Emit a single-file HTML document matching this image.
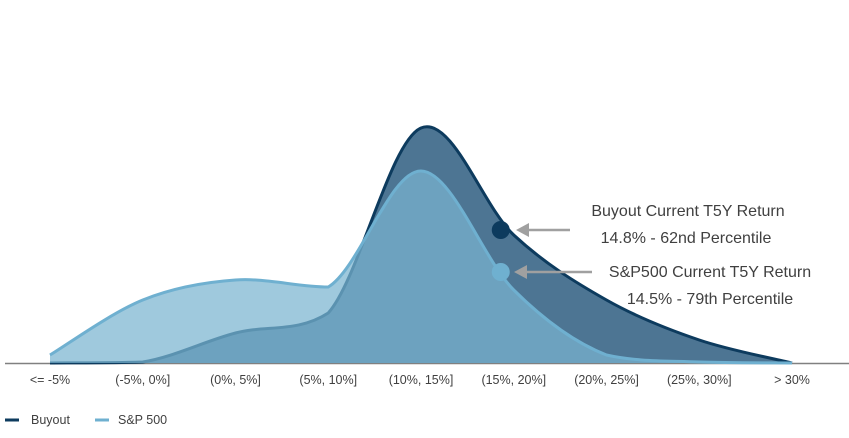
<!DOCTYPE html>
<html><head><meta charset="utf-8"><style>
body{margin:0;background:#fff;width:849px;height:433px;overflow:hidden;font-family:"Liberation Sans",sans-serif}
</style></head><body>
<svg id="chart" width="849" height="433" xmlns="http://www.w3.org/2000/svg">
<line x1="5" y1="363.5" x2="849" y2="363.5" stroke="#808080" stroke-width="1.5"/>
<g id="plot"></g>
<g id="xlabels" font-size="12.5" fill="#404040" text-anchor="middle"></g>
<g font-size="16" fill="#404040" text-anchor="middle">
<text x="688" y="216">Buyout Current T5Y Return</text>
<text x="686" y="243">14.8% - 62nd Percentile</text>
<text x="710" y="277">S&amp;P500 Current T5Y Return</text>
<text x="710" y="304">14.5% - 79th Percentile</text>
<line x1="570" y1="230" x2="526" y2="230" stroke="#a0a0a0" stroke-width="2.5"/>
<polygon points="516,230 529,223 529,237" fill="#a0a0a0"/>
<line x1="592" y1="272" x2="524" y2="272" stroke="#a0a0a0" stroke-width="2.5"/>
<polygon points="514,272 527,265 527,279" fill="#a0a0a0"/>
</g>
<g font-size="12.5" fill="#404040">
<line x1="5" y1="420" x2="19" y2="420" stroke="#0d3b5e" stroke-width="3"/>
<text x="31" y="424">Buyout</text>
<line x1="95" y1="420" x2="109" y2="420" stroke="#6fb0d0" stroke-width="3"/>
<text x="118" y="424">S&amp;P 500</text>
</g>
</svg>
<script>
const categories=["<= -5%","(-5%, 0%]","(0%, 5%]","(5%, 10%]","(10%, 15%]","(15%, 20%]","(20%, 25%]","(25%, 30%]","> 30%"];
const buyoutValues=[0,1,30,50,235,128,63,23,0];
const spValues=[8,63,83,76,192,73,8,1,0];
const buyoutMarker=[4.86,133];
const spMarker=[4.86,91];
const x0=50,dx=92.75,base=363;
const X=i=>x0+i*dx, Y=v=>base-v;
function path(vals){
  const p=vals.map((v,i)=>[X(i),Y(v)]);
  let d=`M${p[0][0]},${p[0][1]}`;
  for(let i=0;i<p.length-1;i++){
    const a=p[Math.max(0,i-1)],b=p[i],c=p[i+1],e=p[Math.min(p.length-1,i+2)];
    const t=0.5/3;
    let c1y=b[1]+(c[1]-a[1])*t, c2y=c[1]-(e[1]-b[1])*t;
    const lo=Math.min(b[1],c[1]),hi=Math.max(b[1],c[1]);
    c1y=Math.max(lo-20,Math.min(hi+0,c1y));c2y=Math.max(lo-20,Math.min(hi+0,c2y));
    d+=` C${b[0]+(c[0]-a[0])*t},${c1y} ${c[0]-(e[0]-b[0])*t},${c2y} ${c[0]},${c[1]}`;
  }
  return d;
}
const g=document.getElementById('plot'),NS="http://www.w3.org/2000/svg";
function area(vals,fill,op,stroke,name){
  const d=path(vals);
  const a=document.createElementNS(NS,'path');
  a.setAttribute('d',d+` L${X(vals.length-1)},${base} L${X(0)},${base} Z`);
  a.setAttribute('fill',fill);a.setAttribute('fill-opacity',op);
  
  
  g.appendChild(a);
  const l=document.createElementNS(NS,'path');
  l.setAttribute('d',d);l.setAttribute('fill','none');l.setAttribute('stroke',stroke);l.setAttribute('stroke-width','3');
  
  
  g.appendChild(l);
}
area(buyoutValues,'#4d7593',1,'#0d3b5e','buyout');
area(spValues,'#7ab4d0',0.72,'#6fb0d0','sp500');
function marker(m,fill,name){
  const c=document.createElementNS(NS,'circle');
  c.setAttribute('cx',X(m[0]));c.setAttribute('cy',Y(m[1]));c.setAttribute('r','9');c.setAttribute('fill',fill);
  
  
  g.appendChild(c);
}
marker(buyoutMarker,'#0d3b5e','buyout-current-marker');
marker(spMarker,'#6fb0d0','sp500-current-marker');
const xl=document.getElementById('xlabels');
categories.forEach((c,i)=>{
  const t=document.createElementNS(NS,'text');
  t.setAttribute('x',X(i));t.setAttribute('y',384);t.textContent=c;
  
  
  xl.appendChild(t);
});
</script>
</body></html>
